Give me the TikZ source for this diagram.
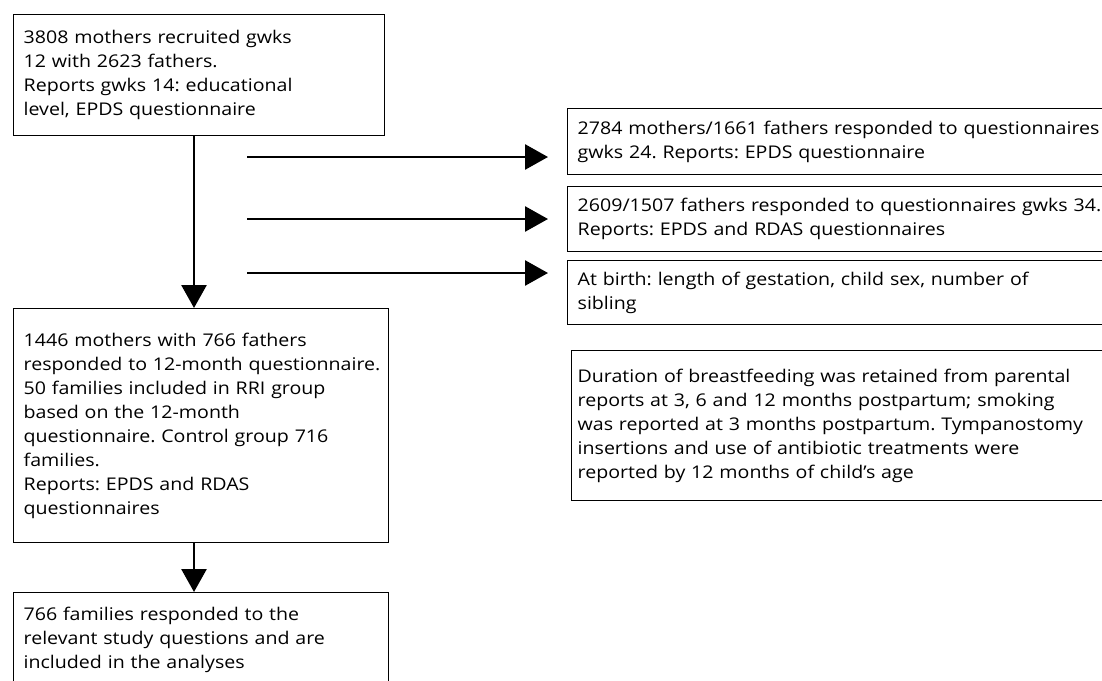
\documentclass[tikz,border=0pt]{standalone}
\usepackage{fontspec}
\setmainfont[FakeStretch=1.12]{Open Sans}
\usetikzlibrary{arrows.meta}

\tikzset{
  flowbox/.style={draw, line width=1.3pt, anchor=north west, align=left,
    inner xsep=10pt, inner ysep=0pt, font=\fontsize{17.5}{24}\selectfont\frenchspacing},
  flowarrow/.style={line width=2.7pt, -{Triangle[length=23pt,width=25pt]}}
}

\begin{document}
\begin{tikzpicture}[x=1pt,y=-1pt]
\useasboundingbox (0,0) rectangle (1102,680);

% Hauptkette links
\node[flowbox, text width=351pt, minimum height=121pt] (recruit) at (13,14)
  {3808 mothers recruited gwks\\12 with 2623 fathers.\\Reports gwks 14: educational\\level, EPDS questionnaire};
\node[flowbox, text width=355pt, minimum height=234pt] (year) at (13,308)
  {1446 mothers with 766 fathers\\\mbox{responded to 12-month questionnaire.}\\50 families included in RRI group\\based on the 12-month\\questionnaire. Control group 716\\families.\\Reports: EPDS and RDAS\\questionnaires};
\node[flowbox, text width=355pt, minimum height=94pt] (final) at (13,592)
  {766 families responded to the\\relevant study questions and are\\included in the analyses};

% Kästen rechts
\node[flowbox, text width=560pt, minimum height=66pt] (gw24) at (567,108)
  {2784 mothers/1661 fathers responded to questionnaires\\gwks 24. Reports: EPDS questionnaire};
\node[flowbox, text width=560pt, minimum height=65pt] (gw34) at (567,186)
  {2609/1507 fathers responded to questionnaires gwks 34.\\Reports: EPDS and RDAS questionnaires};
\node[flowbox, text width=560pt, minimum height=64pt] (birth) at (567,260)
  {At birth: length of gestation, child sex, number of\\sibling};
\node[flowbox, inner xsep=6pt, text width=560pt, minimum height=150pt] (infant) at (571,350)
  {Duration of breastfeeding was retained from parental\\reports at 3, 6 and 12 months postpartum; smoking\\was reported at 3 months postpartum. Tympanostomy\\insertions and use of antibiotic treatments were\\reported by 12 months of child’s age};

% Pfeile
\coordinate (spine) at (194,0);
\draw[flowarrow] (recruit.south -| spine) -- (year.north -| spine);
\draw[flowarrow] (year.south -| spine) -- (final.north -| spine);

\coordinate (tail24) at (247,157);
\coordinate (tail34) at (247,219);
\coordinate (tailbirth) at (247,273);
\draw[flowarrow, shorten >=19pt] (tail24) -- (tail24 -| gw24.west);
\draw[flowarrow, shorten >=19pt] (tail34) -- (tail34 -| gw34.west);
\draw[flowarrow, shorten >=19pt] (tailbirth) -- (tailbirth -| birth.west);
\end{tikzpicture}
\end{document}
